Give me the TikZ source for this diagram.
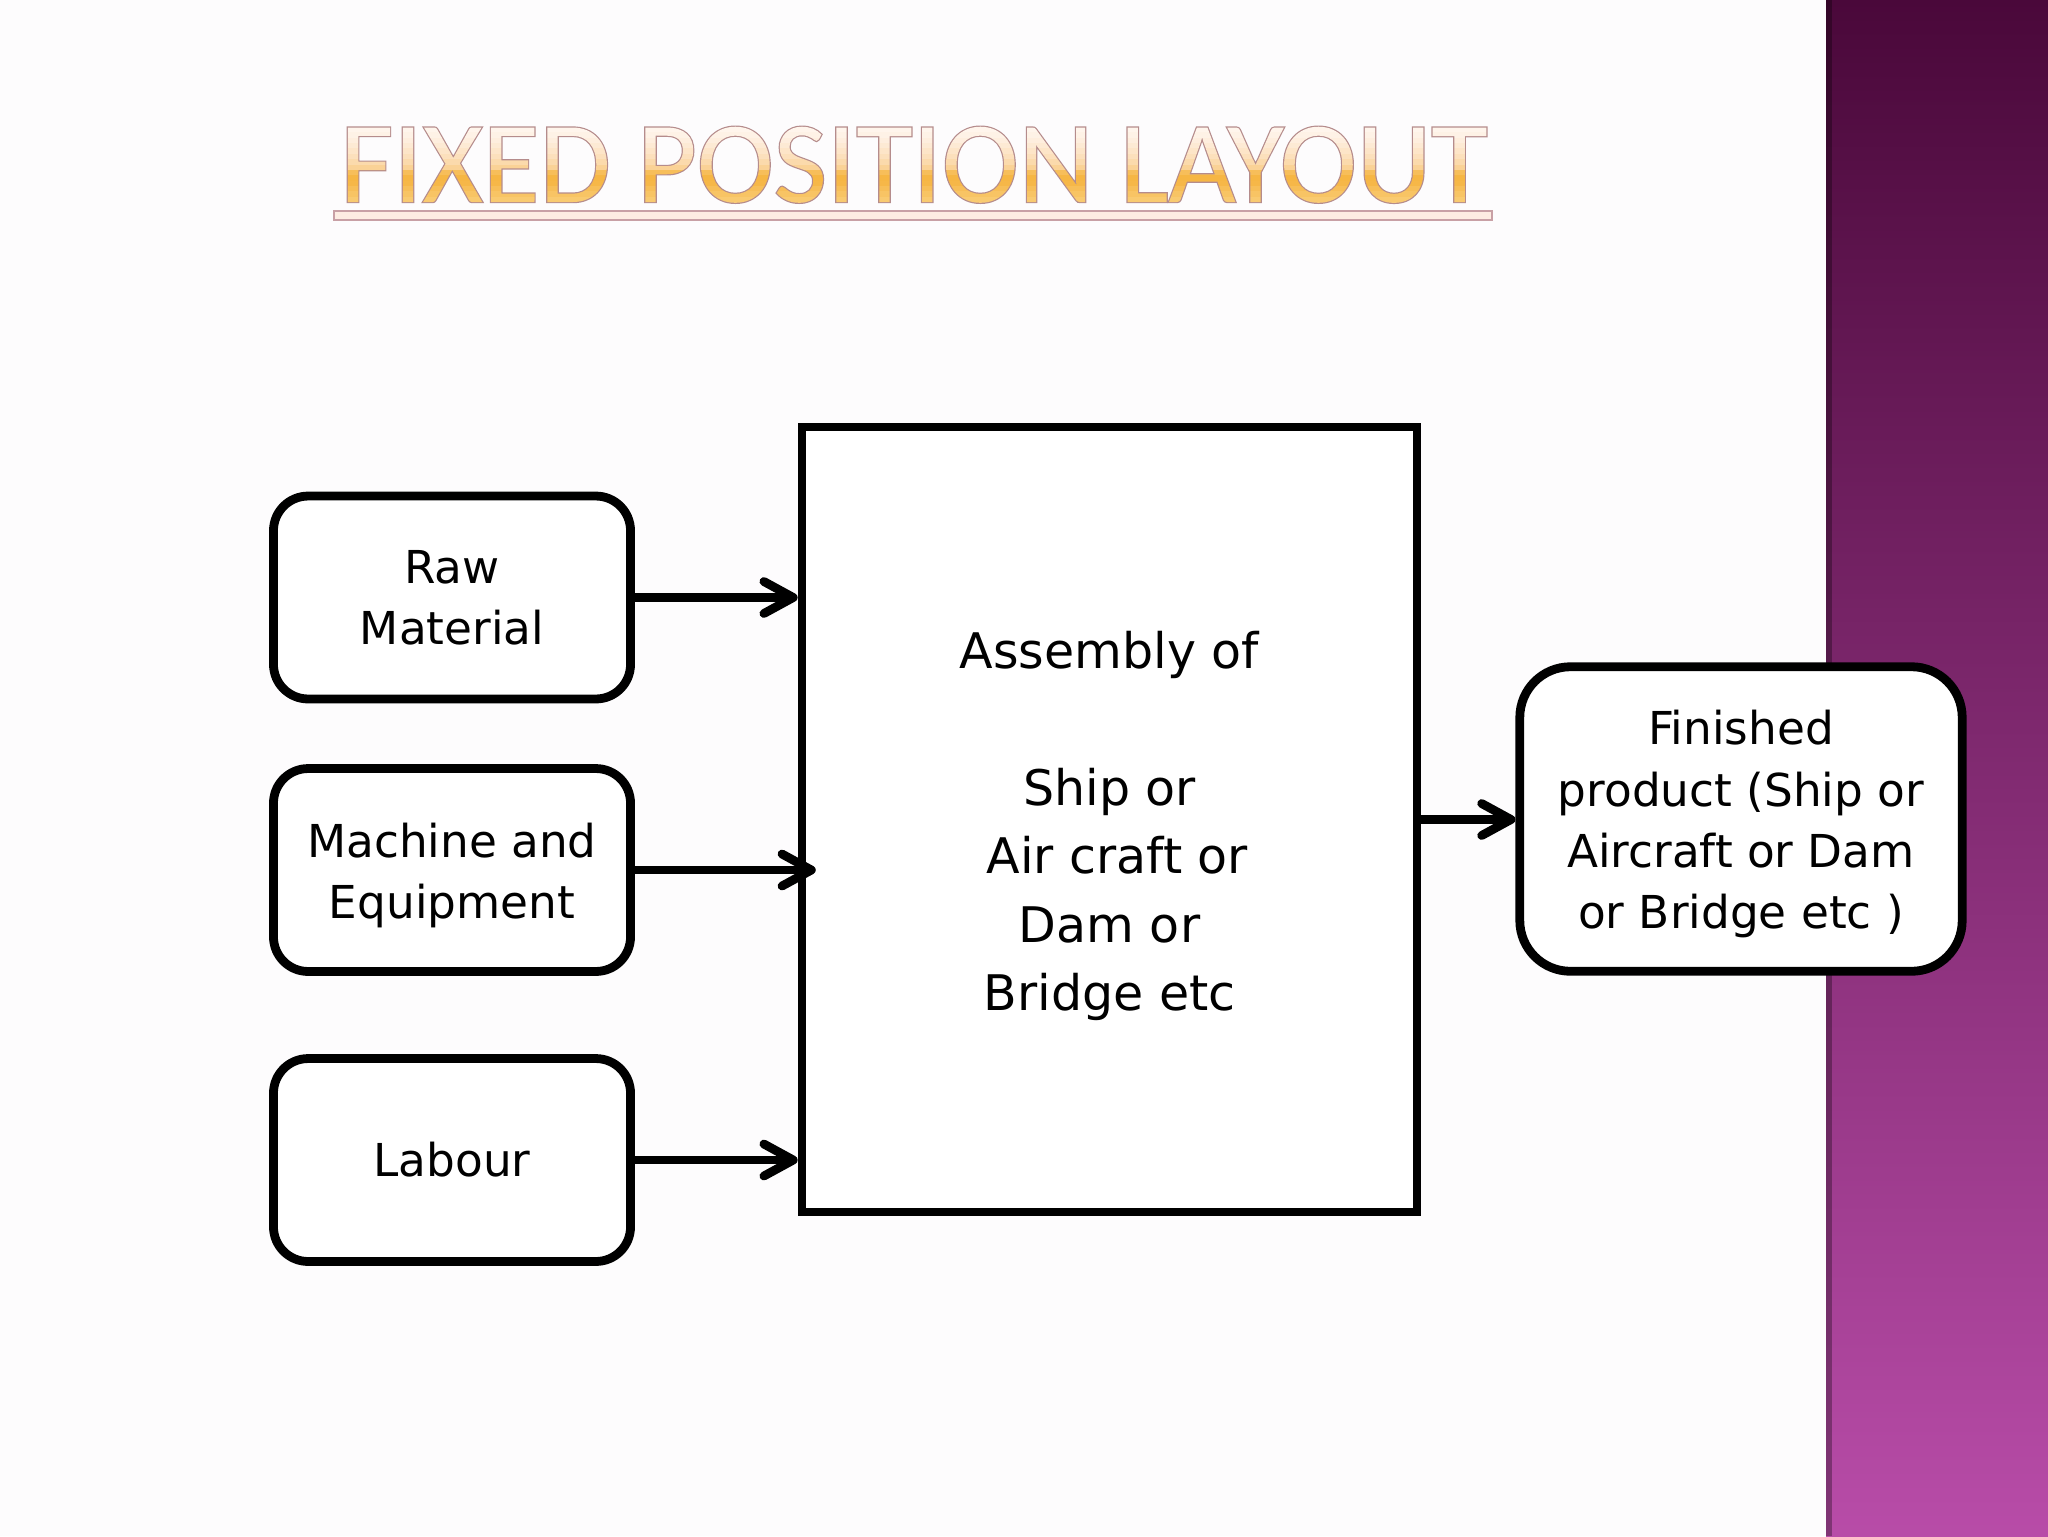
\documentclass[tikz,border=0pt]{standalone}
\usepackage{fontspec}
\setmainfont{DejaVu Sans}
\newfontfamily\titlefont{Carlito}
\usetikzlibrary{arrows.meta}
\definecolor{bandtop}{RGB}{74,8,58}
\definecolor{bandmid}{RGB}{135,48,114}
\definecolor{bandbot}{RGB}{184,76,168}
\definecolor{titlefill}{RGB}{248,200,122}
\definecolor{barfill}{RGB}{253,236,226}
\definecolor{barline}{RGB}{200,160,165}
\definecolor{pagebg}{RGB}{253,252,253}
\newcommand{\titlebands}{\special{pdf:literal q
 0.98 0.80 0.47 rg -445 -5 450 5 re f
 0.976 0.792 0.44 rg -445 0 450 2 re f
 0.973 0.769 0.392 rg -445 2 450 2 re f
 0.969 0.745 0.345 rg -445 4 450 2 re f
 0.965 0.718 0.282 rg -445 6 450 2 re f
 0.965 0.714 0.267 rg -445 8 450 2 re f
 0.969 0.745 0.353 rg -445 10 450 2 re f
 0.98 0.824 0.588 rg -445 12 450 2 re f
 0.984 0.855 0.675 rg -445 14 450 2 re f
 0.988 0.878 0.737 rg -445 16 450 2 re f
 0.992 0.898 0.784 rg -445 18 450 2 re f
 0.992 0.918 0.831 rg -445 20 450 2 re f
 0.996 0.933 0.871 rg -445 22 450 2 re f
 0.996 0.949 0.902 rg -445 24 450 2 re f
 1 0.961 0.925 rg -445 26 450 8 re f Q}}
\begin{document}
\begin{tikzpicture}[x=0.375pt,y=-0.375pt,
  boxbase/.style={draw=black, line width=3.3pt, fill=white, align=center, inner sep=0pt},
  smallbox/.style={boxbase, rounded corners=13pt, minimum width=133.9pt, minimum height=76.1pt,
    font=\fontsize{17pt}{23pt}\selectfont},
  arr/.style={line width=3.3pt, line cap=round, -{Straight Barb[length=11pt,width=12pt,round]}}
]
\useasboundingbox (0,0) rectangle (2048,1536);
\fill[pagebg] (0,0) rectangle (1826,1536);
\shade[top color=bandtop, middle color=bandmid, bottom color=bandbot] (1826,0) rectangle (2048,1536);
\fill[black, opacity=0.3] (1826,0) rectangle (1832,1536);

\draw[barline, fill=barfill, line width=0.8pt] (334,211) rectangle (1492,220);

% boxes
\node[smallbox] (raw) at (452,597.5) {Raw\\Material};
\node[smallbox] (mach) at (452,870) {\rule{0pt}{16.9pt}Machine and\\Equipment};
\node[smallbox] (lab) at (452,1160) {Labour};
\node[boxbase, minimum width=230.6pt, minimum height=294.4pt,
  font=\fontsize{18.4pt}{25.7pt}\selectfont] (big) at (1109.5,819.5)
  {\rule{0pt}{18.8pt}Assembly of\\[25.7pt]Ship or\\\mbox{}\ Air craft or\\Dam or\\Bridge etc};
\node[smallbox, rounded corners=19pt, minimum width=165.9pt, minimum height=114.2pt] (fin) at (1741,819)
  {\rule{0pt}{16.9pt}Finished\\product (Ship or\\Aircraft or Dam\\or Bridge etc )};

% arrows
\draw[arr] (raw.east) -- (raw.east -| big.west);
\draw[arr] (mach.east) -- ([xshift=6.8pt]mach.east -| big.west);
\draw[arr] (lab.east) -- (lab.east -| big.west);
\draw[arr] (big.east) -- (big.east -| fin.west);

% title (drawn last: its text is used as a clip for the gradient bands)
\node[anchor=base, inner sep=0pt, text=titlefill, font=\titlefont\fontsize{43.5pt}{43.5pt}\selectfont] (title) at (914,202)
  {\special{pdf:literal direct 5 Tr 0.9 w 0.71 0.55 0.55 RG}FIXED POSITION LAYOUT\special{pdf:literal direct 0 Tr}\titlebands};
\end{tikzpicture}
\end{document}
